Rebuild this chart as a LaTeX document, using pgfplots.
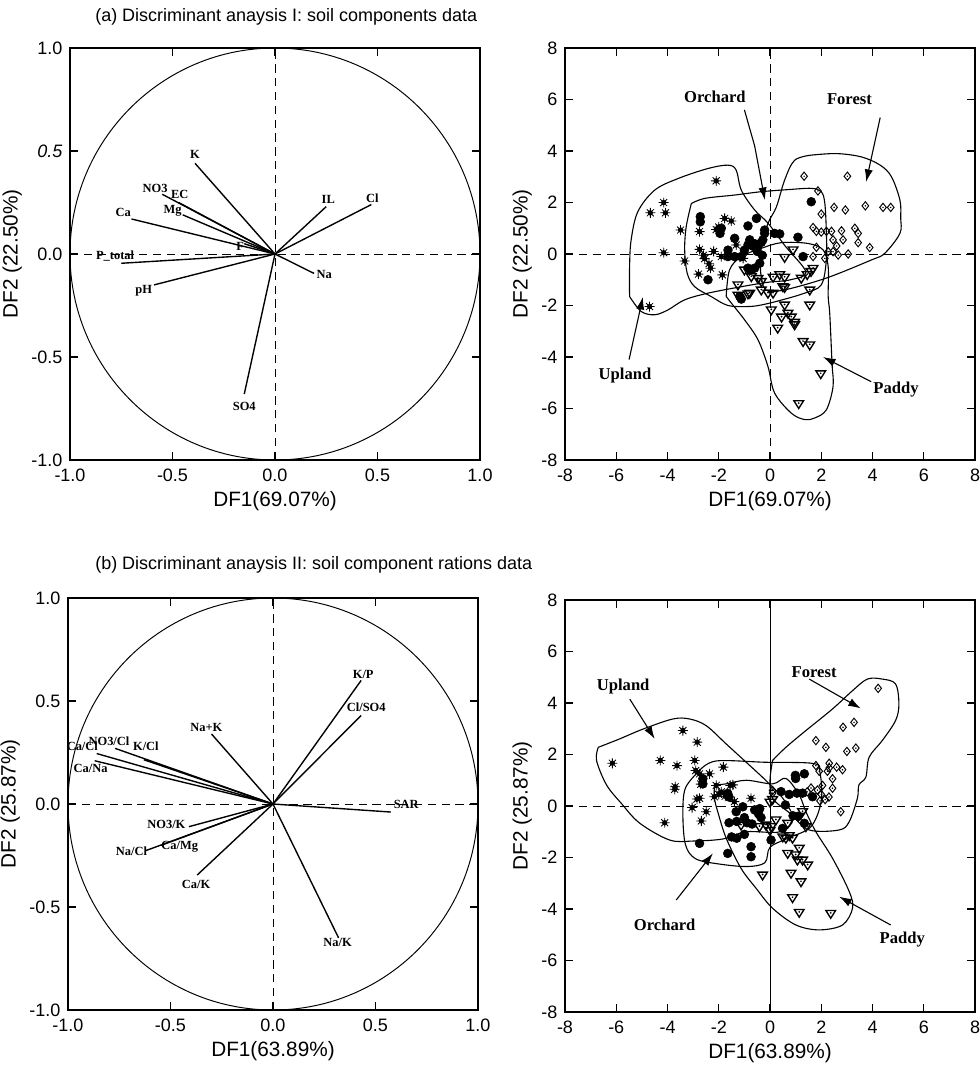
\documentclass[border=0pt]{standalone}
\usepackage{fontspec}
\setmainfont{Liberation Sans}
\newfontfamily\tnr{Liberation Serif}
\usepackage{pgfplots}
\pgfplotsset{compat=1.18}
\usetikzlibrary{arrows.meta}

% group marks
\pgfdeclareplotmark{sunstar}{%
  \pgfpathmoveto{\pgfqpoint{-\pgfplotmarksize}{0pt}}\pgfpathlineto{\pgfqpoint{\pgfplotmarksize}{0pt}}%
  \pgfpathmoveto{\pgfqpoint{0pt}{-\pgfplotmarksize}}\pgfpathlineto{\pgfqpoint{0pt}{\pgfplotmarksize}}%
  \pgfpathmoveto{\pgfqpoint{-0.7\pgfplotmarksize}{-0.7\pgfplotmarksize}}\pgfpathlineto{\pgfqpoint{0.7\pgfplotmarksize}{0.7\pgfplotmarksize}}%
  \pgfpathmoveto{\pgfqpoint{-0.7\pgfplotmarksize}{0.7\pgfplotmarksize}}\pgfpathlineto{\pgfqpoint{0.7\pgfplotmarksize}{-0.7\pgfplotmarksize}}%
  \pgfpathcircle{\pgfpointorigin}{0.45\pgfplotmarksize}%
  \pgfusepathqstroke}
\pgfdeclareplotmark{dmddot}{%
  \pgfpathmoveto{\pgfqpoint{0pt}{\pgfplotmarksize}}%
  \pgfpathlineto{\pgfqpoint{0.8\pgfplotmarksize}{0pt}}%
  \pgfpathlineto{\pgfqpoint{0pt}{-\pgfplotmarksize}}%
  \pgfpathlineto{\pgfqpoint{-0.8\pgfplotmarksize}{0pt}}%
  \pgfpathclose
  \pgfusepathqstroke
  \pgfpathcircle{\pgfpointorigin}{0.2\pgfplotmarksize}%
  \pgfusepathqfill}
\pgfdeclareplotmark{tridown}{%
  \pgfpathmoveto{\pgfqpoint{-\pgfplotmarksize}{0.6\pgfplotmarksize}}%
  \pgfpathlineto{\pgfqpoint{\pgfplotmarksize}{0.6\pgfplotmarksize}}%
  \pgfpathlineto{\pgfqpoint{0pt}{-\pgfplotmarksize}}%
  \pgfpathclose
  \pgfusepathqstroke
  \pgfpathcircle{\pgfqpoint{0pt}{0.1\pgfplotmarksize}}{0.2\pgfplotmarksize}%
  \pgfusepathqfill}

\tikzset{
  lab/.style={font=\tnr\bfseries\fontsize{9}{9}\selectfont, inner sep=0pt},
  glab/.style={font=\tnr\bfseries\fontsize{12}{12}\selectfont, inner sep=0pt},
  ttl/.style={anchor=west, font=\fontsize{13}{13}\selectfont, inner sep=0pt},
}
\pgfplotsset{
  panel/.style={
    scale only axis, width=10.414cm, height=10.465cm,
    axis line style={line width=0.9pt},
    tick align=inside, major tick length=6pt,
    every tick/.style={black, line width=0.8pt},
    tick label style={font=\fontsize{13}{13}\selectfont},
    xticklabel style={yshift=-3pt},
    yticklabel style={xshift=-2pt},
    label style={font=\fontsize{15}{15}\selectfont},
    /pgf/number format/assume math mode=true,
  },
  loadpanel/.style={panel, xmin=-1, xmax=1, ymin=-1, ymax=1,
    xtick={-1,-0.5,0,0.5,1}, ytick={-1,-0.5,0,0.5,1},
    xticklabels={-1.0,-0.5,0.0,0.5,1.0}},
  scorepanel/.style={panel, xmin=-8, xmax=8, ymin=-8, ymax=8,
    xtick={-8,-6,...,8}, ytick={-8,-6,...,8},
    xticklabels={-8,-6,-4,-2,0,2,4,6,8}, yticklabels={-8,-6,-4,-2,0,2,4,6,8}},
  vec/.style={black, line width=1pt, no marks},
  zline/.style={black, line width=0.7pt, dash pattern=on 6pt off 4pt, no marks},
  hull/.style={black, line width=0.8pt, smooth, tension=0.55, no marks},
  arr/.style={black, line width=0.8pt, no marks, -{Latex[length=9pt,width=6pt]}},
  upl/.style={only marks, mark=sunstar, mark size=3.6pt, mark options={line width=0.6pt}},
  orc/.style={only marks, mark=*, mark size=3.2pt, mark options={fill=black, draw=black}},
  frs/.style={only marks, mark=dmddot, mark size=3pt, mark options={line width=0.7pt}},
  pdy/.style={only marks, mark=tridown, mark size=3.5pt, mark options={line width=1pt}},
}

\begin{document}
\begin{tikzpicture}
\path[use as bounding box] (0,0) rectangle (24.892,-27.305);

\node[ttl] at (2.413,-0.43) {(a) Discriminant anaysis I: soil components data};
\node[ttl] at (2.413,-14.35) {(b) Discriminant anaysis II: soil component rations data};

% ---------- (a) loadings ----------
\begin{axis}[loadpanel, at={(1.778cm,-11.684cm)}, anchor=south west,
  yticklabels={-1.0,-0.5,0.0,\textit{0.5},1.0},
  xlabel={DF1(69.07\%)}, ylabel={DF2 (22.50\%)}]
\draw[line width=0.7pt] (axis cs:0,0) ellipse [x radius=1, y radius=1];
\addplot[zline] coordinates {(-1,0) (1,0)};
\addplot[zline] coordinates {(0,-1) (0,1)};
\addplot[vec] coordinates {(0,0) (-0.39,0.44)};
\addplot[vec] coordinates {(0,0) (-0.55,0.29)};
\addplot[vec] coordinates {(0,0) (-0.47,0.25)};
\addplot[vec] coordinates {(0,0) (-0.45,0.19)};
\addplot[vec] coordinates {(0,0) (-0.70,0.17)};
\addplot[vec] coordinates {(0,0) (-0.15,0.05)};
\addplot[vec] coordinates {(0,0) (-0.75,-0.045)};
\addplot[vec] coordinates {(0,0) (-0.59,-0.15)};
\addplot[vec] coordinates {(0,0) (0.25,0.23)};
\addplot[vec] coordinates {(0,0) (0.47,0.24)};
\addplot[vec] coordinates {(0,0) (0.19,-0.094)};
\addplot[vec] coordinates {(0,0) (-0.15,-0.68)};
\node[lab] at (axis cs:-0.39,0.485) {K};
\node[lab] at (axis cs:-0.585,0.32) {NO3};
\node[lab] at (axis cs:-0.465,0.29) {EC};
\node[lab] at (axis cs:-0.50,0.21) {Mg};
\node[lab] at (axis cs:-0.74,0.20) {Ca};
\node[lab] at (axis cs:-0.17,0.035) {F};
\node[lab] at (axis cs:-0.78,-0.01) {P\_total};
\node[lab] at (axis cs:-0.64,-0.18) {pH};
\node[lab] at (axis cs:0.26,0.265) {IL};
\node[lab] at (axis cs:0.475,0.27) {Cl};
\node[lab] at (axis cs:0.24,-0.10) {Na};
\node[lab] at (axis cs:-0.15,-0.74) {SO4};
\end{axis}

% ---------- (a) scores ----------
\begin{axis}[scorepanel, at={(14.351cm,-11.684cm)}, anchor=south west,
  xlabel={DF1(69.07\%)}, ylabel={DF2 (22.50\%)}]
\addplot[zline] coordinates {(-8,0) (8,0)};
\addplot[zline] coordinates {(0,-8) (0,8)};
% hulls
\addplot[hull] coordinates {(-5.48,-1.65) (-5.48,-0.49) (-5.42,0.54) (-5.16,1.64) (-4.5,2.48) (-3.59,2.93) (-2.42,3.32) (-1.64,3.45) (-1.32,3.26) (-1.12,2.48) (-0.6,1.71) (-0.08,1.2) (0.6,0.3) (1.4,-0.7) (0.8,-1.0) (-0.1,-1.1) (-1.12,-1.27) (-2.42,-1.52) (-3.33,-1.78) (-3.98,-2.17) (-4.5,-2.36) (-5.03,-2.23) (-5.48,-1.65)};
\addplot[hull] coordinates {(1.61,3.84) (2.6,3.9) (3.57,3.77) (4.3,3.45) (4.74,3.0) (5.07,2.09) (5.1,1.4) (5.07,0.8) (4.48,0.03) (3.96,-0.23) (2.0,-1.0) (0.05,-1.46) (-0.34,-0.88) (-0.34,0.28) (-0.08,1.19) (0.25,1.83) (0.57,2.87) (0.96,3.64) (1.61,3.84)};
\addplot[hull] coordinates {(-3.07,1.96) (-2.55,2.16) (-1.38,2.29) (-0.34,2.42) (0.7,2.5) (1.61,2.55) (2.0,2.42) (2.14,1.96) (2.2,0.8) (2.2,-0.23) (2.0,-1.2) (1.35,-1.52) (0.44,-1.79) (-0.34,-1.98) (-0.86,-2.04) (-1.64,-2.0) (-2.3,-1.65) (-2.94,-1.27) (-3.23,-0.75) (-3.33,0.16) (-3.27,1.06) (-3.07,1.96)};
\addplot[hull] coordinates {(-1.71,-1.65) (-1.58,-0.62) (-1.12,-0.1) (-0.34,0.22) (0.44,0.44) (1.48,0.41) (2.07,0.16) (2.27,-0.49) (2.27,-1.65) (2.33,-2.3) (2.42,-4.24) (2.46,-5.14) (2.2,-6.05) (1.74,-6.37) (1.35,-6.43) (0.83,-6.18) (0.18,-5.4) (-0.08,-4.37) (-0.47,-3.33) (-0.99,-2.56) (-1.45,-1.98) (-1.71,-1.65)};
% groups
\addplot[upl] coordinates {(-2.10,2.84) (-4.15,2.00) (-4.67,1.60) (-4.08,1.60) (-3.49,0.93) (-4.15,0.05) (-1.77,1.38) (-1.51,1.28) (-2.10,0.95) (-2.0,1.05) (-2.75,0.87) (-2.75,0.18) (-3.33,-0.27) (-2.55,-0.18) (-2.38,-0.38) (-2.32,-0.55) (-2.79,-0.78) (-1.86,-0.81) (-1.32,0.35) (-1.05,-0.17) (-4.70,-2.04) (-2.2,0.1) (-1.9,-0.1) (-2.6,-0.05)};
\addplot[orc] coordinates {(1.61,2.03) (-0.53,1.38) (-0.86,1.09) (-0.21,0.93) (-0.21,0.80) (0.18,0.80) (0.38,0.78) (-1.38,0.61) (-0.79,0.55) (-0.60,0.40) (-0.86,0.35) (-0.66,0.30) (-0.47,0.35) (-0.34,0.45) (-0.28,0.55) (-1.0,0.15) (-1.13,-0.1) (-1.38,-0.1) (-1.64,0.15) (1.09,0.65) (1.29,-0.10) (-2.42,-1.00) (-1.90,1.00) (-1.95,0.80) (-2.72,1.45) (-2.72,1.25) (-0.40,-0.36) (-0.60,-0.55) (-0.73,-0.62) (-0.86,-0.55) (-1.18,-1.65) (-1.12,-1.75) (-1.64,-0.10) (-0.3,-0.05) (-0.5,0.1)};
\addplot[frs] coordinates {(1.33,3.02) (3.02,3.02) (1.87,2.45) (2.00,1.55) (2.50,1.81) (2.94,1.71) (3.72,1.87) (4.41,1.81) (4.71,1.81) (1.81,0.88) (2.00,0.85) (2.20,0.88) (2.40,0.88) (2.79,0.90) (2.46,0.55) (2.85,0.55) (2.60,0.31) (3.31,1.00) (3.44,0.80) (3.44,0.44) (3.89,0.25) (3.05,0.00) (2.66,-0.04) (2.46,0.09) (2.27,0.09) (1.68,-0.10) (1.81,0.26) (2.14,-0.17) (1.68,1.03)};
\addplot[pdy] coordinates {(0.57,-0.13) (0.90,0.16) (0.12,-0.90) (0.38,-0.80) (0.57,-0.90) (-1.00,-0.62) (-0.80,-0.62) (-0.73,-0.88) (-0.47,-0.95) (-0.34,-1.07) (1.22,-0.94) (1.45,-0.80) (1.60,-0.68) (1.68,-0.56) (1.55,-1.40) (-1.25,-1.20) (-0.86,-1.55) (-1.25,-1.60) (-0.34,-1.40) (-0.08,-1.52) (0.12,-1.52) (0.50,-1.27) (-0.79,-1.52) (0.57,-1.30) (0.05,-2.17) (0.57,-1.98) (1.55,-1.98) (0.70,-2.30) (0.45,-2.45) (0.83,-2.45) (0.96,-2.65) (0.30,-2.88) (0.96,-2.75) (1.29,-3.40) (1.55,-3.53) (1.98,-4.65) (1.12,-5.81)};
% labels
\node[glab] at (axis cs:-2.15,6.1) {Orchard};
\addplot[arr] coordinates {(-1.0,5.6) (-0.6,4.2) (-0.2,2.1)};
\node[glab] at (axis cs:3.1,6.0) {Forest};
\addplot[arr] coordinates {(4.3,5.3) (3.75,2.8)};
\node[glab] at (axis cs:-5.66,-4.73) {Upland};
\addplot[arr] coordinates {(-5.5,-4.1) (-4.96,-1.67)};
\node[glab] at (axis cs:4.92,-5.27) {Paddy};
\addplot[arr] coordinates {(3.95,-4.96) (2.07,-4.0)};
\end{axis}

% ---------- (b) loadings ----------
\begin{axis}[loadpanel, at={(1.727cm,-25.654cm)}, anchor=south west,
  yticklabels={-1.0,-0.5,0.0,0.5,1.0},
  xlabel={DF1(63.89\%)}, ylabel={DF2 (25.87\%)}]
\draw[line width=0.7pt] (axis cs:0,0) ellipse [x radius=1, y radius=1];
\addplot[zline] coordinates {(-1,0) (1,0)};
\addplot[zline] coordinates {(0,-1) (0,1)};
\addplot[vec] coordinates {(0,0) (0.43,0.60)};
\addplot[vec] coordinates {(0,0) (0.43,0.43)};
\addplot[vec] coordinates {(0,0) (-0.30,0.34)};
\addplot[vec] coordinates {(0,0) (-0.77,0.27)};
\addplot[vec] coordinates {(0,0) (-0.63,0.215)};
\addplot[vec] coordinates {(0,0) (-0.86,0.245)};
\addplot[vec] coordinates {(0,0) (-0.87,0.21)};
\addplot[vec] coordinates {(0,0) (0.575,-0.039)};
\addplot[vec] coordinates {(0,0) (-0.41,-0.11)};
\addplot[vec] coordinates {(0,0) (-0.545,-0.20)};
\addplot[vec] coordinates {(0,0) (-0.62,-0.226)};
\addplot[vec] coordinates {(0,0) (-0.37,-0.345)};
\addplot[vec] coordinates {(0,0) (0.32,-0.65)};
\node[lab] at (axis cs:0.44,0.63) {K/P};
\node[lab] at (axis cs:0.455,0.47) {Cl/SO4};
\node[lab] at (axis cs:-0.325,0.37) {Na+K};
\node[lab] at (axis cs:-0.80,0.305) {NO3/Cl};
\node[lab] at (axis cs:-0.62,0.28) {K/Cl};
\node[lab] at (axis cs:-0.93,0.28) {Ca/Cl};
\node[lab] at (axis cs:-0.89,0.175) {Ca/Na};
\node[lab] at (axis cs:0.65,0.0) {SAR};
\node[lab] at (axis cs:-0.52,-0.10) {NO3/K};
\node[lab] at (axis cs:-0.455,-0.206) {Ca/Mg};
\node[lab] at (axis cs:-0.69,-0.23) {Na/Cl};
\node[lab] at (axis cs:-0.375,-0.39) {Ca/K};
\node[lab] at (axis cs:0.315,-0.67) {Na/K};
\end{axis}

% ---------- (b) scores ----------
\begin{axis}[scorepanel, at={(14.351cm,-25.705cm)}, anchor=south west,
  xlabel={DF1(63.89\%)}, ylabel={DF2 (25.87\%)}]
\addplot[zline] coordinates {(-8,0) (8,0)};
\addplot[black, line width=0.7pt, no marks] coordinates {(0,-8) (0,8)};
% hulls
\addplot[hull] coordinates {(-6.7,2.28) (-5.86,2.61) (-4.95,2.99) (-3.79,3.38) (-3.14,3.38) (-2.49,3.12) (-1.71,2.41) (-0.93,1.70) (-0.16,0.99) (0.5,0.3) (0.9,-0.5) (0.4,-1.0) (-0.93,-1.0) (-1.84,-1.28) (-3.0,-1.36) (-3.92,-1.32) (-5.08,-0.67) (-5.8,0.1) (-6.38,0.82) (-6.77,1.77) (-6.7,2.28)};
\addplot[hull] coordinates {(0.1,1.77) (0.62,2.28) (1.4,2.93) (2.44,3.77) (3.22,4.48) (3.8,4.93) (4.38,4.93) (4.9,4.74) (5.03,3.96) (4.9,3.32) (4.38,2.54) (3.87,1.9) (3.74,1.12) (3.47,0.82) (3.41,0.3) (3.09,-0.61) (2.7,-0.93) (1.53,-0.93) (0.8,-0.3) (0.1,0.3) (0.0,1.0) (0.1,1.77)};
\addplot[hull] coordinates {(-2.75,1.38) (-2.1,1.75) (-0.2,1.7) (1.7,1.65) (1.95,1.3) (2.0,0.2) (1.6,-0.8) (0.7,-1.25) (0.0,-1.6) (-0.2,-2.2) (-0.9,-2.35) (-2.0,-2.25) (-2.9,-2.05) (-3.3,-1.5) (-3.4,-0.3) (-3.3,0.7) (-2.75,1.38)};
\addplot[hull] coordinates {(-2.17,0.82) (-1.71,0.86) (-0.93,1.0) (0.1,0.86) (0.62,1.07) (1.14,0.43) (1.4,-0.22) (1.79,-1.0) (2.44,-2.03) (3.09,-3.32) (3.22,-3.97) (2.83,-4.62) (1.92,-4.81) (1.01,-4.62) (0.1,-3.97) (-0.54,-3.2) (-1.13,-2.42) (-1.71,-1.25) (-2.04,-0.22) (-2.17,0.3) (-2.17,0.82)};
% groups
\addplot[upl] coordinates {(-6.15,1.66) (-3.40,2.93) (-2.84,2.48) (-4.28,1.77) (-3.63,1.57) (-2.94,1.77) (-1.82,1.51) (-2.9,1.38) (-2.75,1.25) (-2.36,1.25) (-2.1,0.8) (-1.55,0.8) (-3.7,0.75) (-2.7,0.85) (-3.72,0.65) (-4.11,-0.65) (-3.04,-0.06) (-2.85,0.27) (-2.75,0.3) (-2.49,-0.22) (-2.68,-0.58) (-2.0,0.45) (-1.9,0.55) (-1.75,0.38) (-1.39,0.17) (-0.74,0.30) (-1.45,0.82) (-2.17,0.36)};
\addplot[orc] coordinates {(0.99,1.19) (1.34,1.25) (-2.62,1.06) (-2.62,0.86) (-1.65,0.49) (-1.6,0.35) (-1.06,-0.03) (-0.6,-0.15) (-0.5,-0.2) (-0.4,-0.1) (-1.32,-0.22) (-1.6,-0.65) (-1.3,-0.6) (-0.9,-0.65) (-0.35,-0.45) (-0.45,-0.3) (-1.5,-1.2) (-1.3,-1.25) (-1.0,-1.1) (-2.75,-1.45) (-1.65,-1.84) (-0.74,-1.58) (-0.74,-1.97) (0.04,-1.32) (0.6,0.04) (0.75,0.45) (1.05,0.5) (1.27,0.5) (1.66,0.36) (1.0,1.07) (0.43,0.56) (0.9,-0.38) (1.1,-0.4) (0.49,-0.87) (1.34,-0.67) (-1.0,-0.45) (-0.7,-0.7)};
\addplot[frs] coordinates {(4.22,4.57) (3.28,3.25) (2.85,3.06) (1.79,2.54) (2.18,2.28) (3.0,2.12) (3.35,2.25) (2.31,1.66) (2.31,1.48) (2.6,1.51) (2.83,1.41) (1.79,1.57) (1.92,1.35) (2.24,1.35) (2.44,1.06) (2.05,0.80) (2.44,0.69) (2.0,0.45) (1.95,0.2) (2.15,0.25) (2.3,0.35) (2.76,-0.22) (0.1,0.6) (0.1,0.5) (1.45,0.55) (1.6,0.7) (1.85,0.62)};
\addplot[pdy] coordinates {(0.0,0.15) (0.1,0.25) (-0.41,-0.80) (-1.13,-0.74) (-0.16,-0.74) (0.69,-0.67) (1.1,-0.4) (1.27,-0.22) (1.40,-0.80) (0.5,-1.2) (0.62,-1.25) (0.75,-1.15) (0.88,-1.25) (1.14,-1.64) (0.69,-1.84) (1.0,-1.9) (1.07,-2.1) (1.27,-2.1) (1.47,-2.29) (0.82,-2.61) (-0.29,-2.68) (1.21,-2.94) (0.88,-3.56) (1.14,-4.13) (2.37,-4.17) (0.23,-0.54) (0.05,-0.8) (0.0,-0.95)};
% labels
\node[glab] at (axis cs:-5.73,4.63) {Upland};
\addplot[arr] coordinates {(-5.47,4.15) (-4.5,2.61)};
\node[glab] at (axis cs:1.72,5.21) {Forest};
\addplot[arr] coordinates {(1.53,4.93) (3.54,3.79)};
\node[glab] at (axis cs:-4.11,-4.62) {Orchard};
\addplot[arr] coordinates {(-3.66,-3.65) (-2.23,-1.84)};
\node[glab] at (axis cs:5.16,-5.2) {Paddy};
\addplot[arr] coordinates {(4.71,-4.62) (2.7,-3.52)};
\end{axis}
\end{tikzpicture}
\end{document}
